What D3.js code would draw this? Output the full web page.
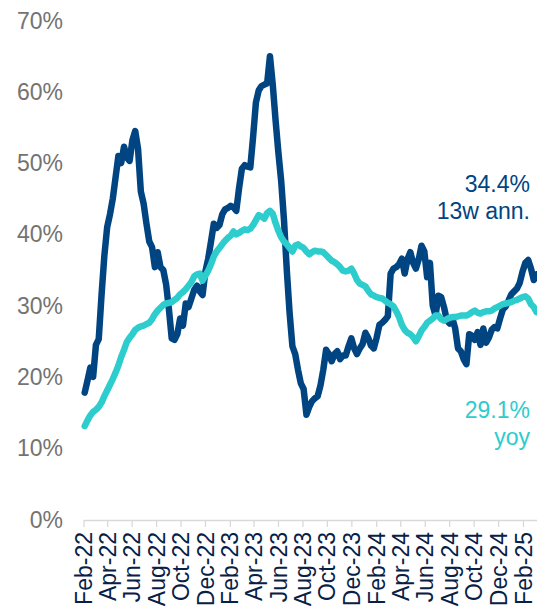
<!DOCTYPE html>
<html>
<head>
<meta charset="utf-8">
<script src="https://cdn.jsdelivr.net/npm/d3@7"></script>
<style>
  html, body { margin: 0; padding: 0; background: #ffffff; }
  svg { display: block; font-family: "Liberation Sans", Arial, sans-serif; }
</style>
</head>
<body>
<svg id="chart" width="537" height="611"></svg>
<script>
// ---- data (weekly observations, first week ending 4 Feb 2022) ----
const firstWeek = "2022-02-04";
const ann13w = [
  17.8, 19.5, 21.3, 20.0, 24.5, 25.3, 31.5, 37.0, 41.0, 42.8,
  45.0, 48.0, 51.0, 50.0, 52.3, 50.8, 50.3, 53.2, 54.5, 52.0,
  46.0, 44.3, 41.5, 39.0, 38.2, 35.4, 37.5, 35.4, 35.0, 33.0,
  29.5, 25.4, 25.2, 26.0, 28.2, 27.2, 30.3, 29.8, 31.0, 32.2,
  32.8, 32.0, 31.5, 34.8, 36.6, 39.0, 41.5, 40.9, 41.3, 42.8,
  43.5, 43.7, 44.0, 43.8, 43.3, 46.5, 49.2, 49.7, 49.5, 49.4,
  53.7, 58.5, 60.2, 60.8, 61.0, 61.2, 65.0, 61.0, 56.0, 51.5,
  47.5, 42.0, 35.0, 29.0, 24.3, 23.2, 21.0, 19.1, 18.3, 14.7,
  15.8, 16.6, 17.0, 17.3, 18.8, 21.0, 23.8, 23.2, 22.2, 23.2,
  23.6, 22.5, 23.0, 23.0, 24.3, 25.4, 24.0, 23.2, 24.0, 24.6,
  26.2, 25.5, 24.4, 24.0, 25.5, 27.3, 27.6, 28.0, 28.5, 34.5,
  35.2, 35.4, 35.8, 36.6, 34.5, 36.5, 37.5, 36.0, 35.2, 36.5,
  38.4, 37.6, 34.0, 36.0, 30.0, 28.6, 31.4, 31.2, 29.8, 28.0,
  27.5, 28.2, 26.8, 24.0, 23.6, 22.5, 21.8, 26.0, 25.8, 25.2,
  26.3, 24.5, 26.8, 24.8, 25.5, 26.6, 27.0, 26.8, 28.2, 29.5,
  29.9, 30.7, 31.6, 32.0, 32.4, 33.2, 34.8, 36.0, 36.4, 35.2,
  33.6, 34.4
];
const yoy = [
  13.1, 13.9, 14.6, 15.1, 15.4, 15.8, 16.4, 17.3, 18.1, 18.9,
  19.7, 20.6, 21.6, 22.8, 23.8, 24.9, 25.5, 26.0, 26.6, 26.9,
  27.1, 27.2, 27.4, 27.6, 28.1, 28.8, 29.3, 29.7, 30.1, 30.3,
  30.4, 30.5, 30.8, 31.1, 31.6, 31.9, 32.3, 32.8, 33.3, 34.1,
  34.4, 34.5, 33.5, 34.2, 34.9, 35.8, 36.9, 37.6, 38.1, 38.6,
  39.1, 39.5, 39.8, 40.4, 40.0, 40.2, 40.5, 40.7, 40.6, 40.8,
  41.3, 42.0, 42.7, 42.5, 42.2, 43.0, 43.3, 42.9, 41.6, 40.5,
  39.6, 39.0, 38.6, 38.1, 37.6, 38.4, 38.6, 38.3, 38.1, 37.6,
  37.2, 37.5, 37.7, 37.6, 37.6, 37.5, 37.1, 36.7, 36.3, 36.1,
  35.8, 35.4, 34.9, 34.8, 34.9, 35.2, 34.5, 33.6, 33.1, 32.9,
  32.7, 32.1, 31.6, 31.4, 31.2, 31.1, 31.0, 30.7, 30.4, 30.2,
  29.9, 29.2, 28.4, 27.3, 26.6, 26.2, 26.0, 25.6, 25.0, 25.7,
  26.5, 27.0, 27.6, 27.9, 28.2, 28.6, 28.6, 28.1, 27.9, 28.1,
  28.3, 28.4, 28.4, 28.5, 28.6, 28.6, 28.6, 28.8, 29.1, 29.3,
  29.0, 28.9, 29.1, 29.2, 29.2, 29.3, 29.6, 29.8, 30.0, 30.2,
  30.3, 30.4, 30.5, 30.7, 30.8, 31.0, 31.2, 31.3, 31.0, 30.2,
  29.8, 29.1
];
const yTicks = [0, 10, 20, 30, 40, 50, 60, 70];
const xTickStart = "2022-02-01";
const xTickEnd = "2025-03-01";
const annLabels = ["34.4%", "13w ann."];
const yoyLabels = ["29.1%", "yoy"];

// ---- setup ----
const parse = d3.timeParse("%Y-%m-%d");
const start = parse(firstWeek);
const dates = ann13w.map((_, i) => d3.timeDay.offset(start, 7 * i));

const svg = d3.select("#chart");
const navy = "#004481";
const aqua = "#2DCCCD";
const fontSize = 23;

const x = d3.scaleTime()
  .domain([parse("2022-02-01"), parse("2025-03-08")])
  .range([83.5, 537]);
const y = d3.scaleLinear().domain([0, 70]).range([519.5, 20.5]);

// y labels
svg.append("g").selectAll("text")
  .data(yTicks).join("text")
  .attr("x", 63)
  .attr("y", d => y(d))
  .attr("dy", "0.35em")
  .attr("text-anchor", "end")
  .attr("font-size", fontSize)
  .attr("fill", "#737373")
  .text(d => d + "%");

// x axis
const tickDates = d3.timeMonth.range(parse(xTickStart), parse(xTickEnd), 2);
const xAxis = d3.axisBottom(x)
  .tickValues(tickDates)
  .tickFormat(d3.timeFormat("%b-%y"))
  .tickSize(7)
  .tickSizeOuter(0);
const gx = svg.append("g").attr("transform", "translate(0,520)").call(xAxis);
gx.select(".domain").attr("stroke", "#d9d9d9").attr("stroke-width", 1.3);
gx.selectAll(".tick line").attr("stroke", "#d9d9d9").attr("stroke-width", 1.3);
gx.selectAll(".tick text")
  .attr("transform", "rotate(-90)")
  .attr("x", -12)
  .attr("y", 0)
  .attr("dy", "0.35em")
  .attr("text-anchor", "end")
  .attr("font-size", fontSize)
  .attr("font-family", "'Liberation Sans', Arial, sans-serif")
  .attr("fill", "#072146");

// lines
const line = vals => d3.line()
  .x((d, i) => x(dates[i]))
  .y(d => y(d))(vals);

svg.append("path")
  .attr("d", line(ann13w))
  .attr("fill", "none")
  .attr("stroke", navy)
  .attr("stroke-width", 6.5)
  .attr("stroke-linejoin", "round")
  .attr("stroke-linecap", "round");

svg.append("path")
  .attr("d", line(yoy))
  .attr("fill", "none")
  .attr("stroke", aqua)
  .attr("stroke-width", 6.5)
  .attr("stroke-linejoin", "round")
  .attr("stroke-linecap", "round");

// annotations
svg.append("g").selectAll("text")
  .data(annLabels).join("text")
  .attr("x", 530)
  .attr("y", (d, i) => 192 + i * 27)
  .attr("text-anchor", "end")
  .attr("font-size", fontSize)
  .attr("fill", navy)
  .text(d => d);

svg.append("g").selectAll("text")
  .data(yoyLabels).join("text")
  .attr("x", 530)
  .attr("y", (d, i) => 418 + i * 27)
  .attr("text-anchor", "end")
  .attr("font-size", fontSize)
  .attr("fill", aqua)
  .text(d => d);
</script>
</body>
</html>
